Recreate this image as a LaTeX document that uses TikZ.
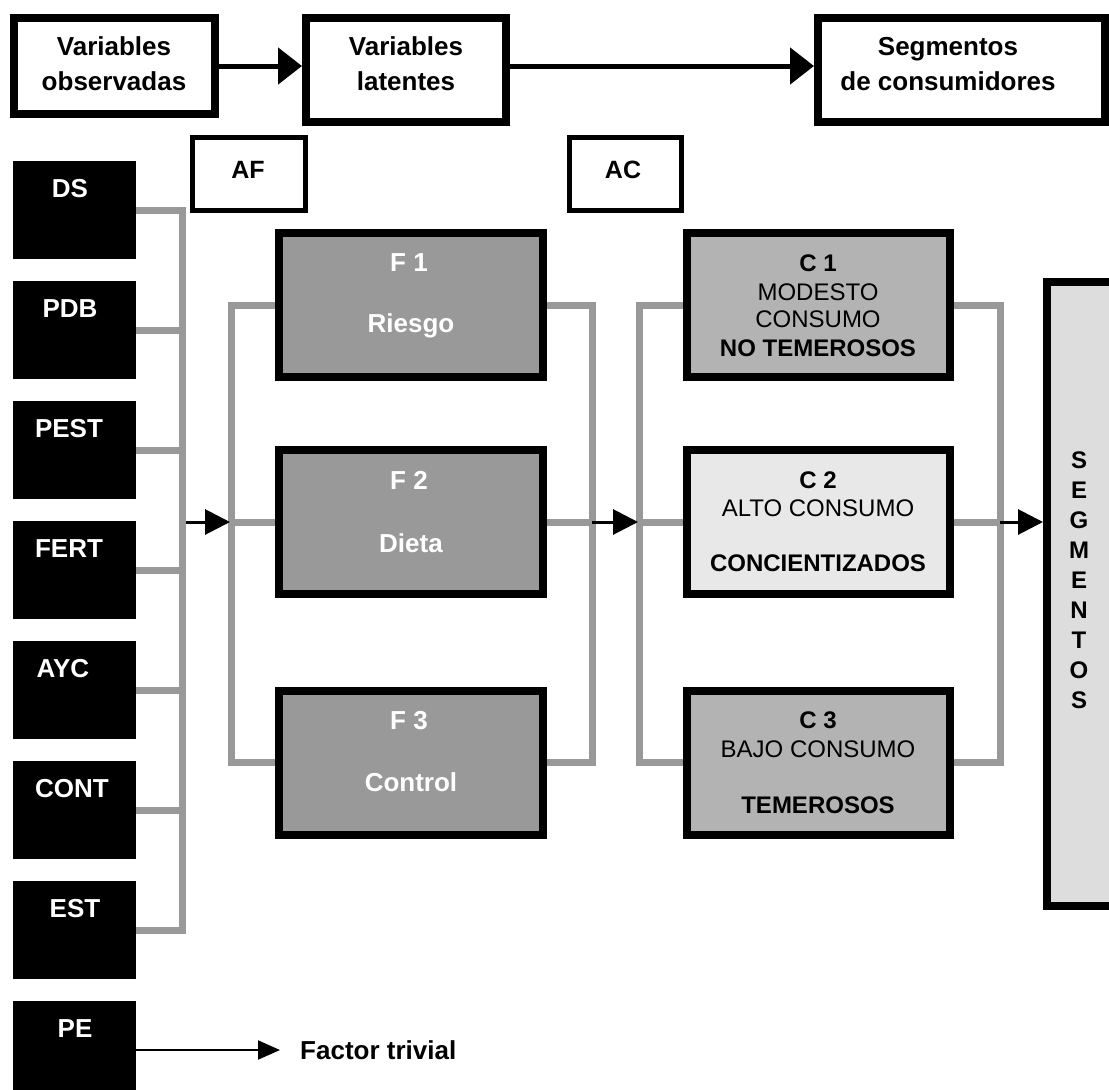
\documentclass[tikz,border=0pt]{standalone}
\usepackage{fontspec}
\setmainfont{Liberation Sans}
\usetikzlibrary{arrows.meta,calc}
\definecolor{linegray}{HTML}{999999}
\definecolor{fgray}{HTML}{999999}
\definecolor{cmid}{HTML}{B3B3B3}
\definecolor{clight}{HTML}{E8E8E8}
\definecolor{segfill}{HTML}{DDDDDD}
\begin{document}
\begin{tikzpicture}[x=1pt,y=-1pt,
  every node/.style={inner sep=0pt},
  bf/.style={font=\fontsize{26}{31}\selectfont\bfseries, align=center},
  toptext/.style={font=\fontsize{26}{35}\selectfont\bfseries, align=center},
  cbf/.style={font=\fontsize{24}{29}\selectfont\bfseries, align=center},
  crg/.style={font=\fontsize{24}{29}\selectfont, align=center},
  topbox/.style={draw=black, line width=8pt, fill=white},
  anbox/.style={draw=black, line width=5pt, fill=white, minimum height=73pt},
  antext/.style={font=\fontsize{25}{30}\selectfont\bfseries},
  varbox/.style={fill=black, minimum width=123pt, minimum height=98pt},
  vartext/.style={bf, text=white},
  fbox/.style={draw=black, line width=8pt, fill=fgray, minimum width=264pt, minimum height=144pt},
  ftext/.style={bf, text=white},
  cbox/.style={draw=black, line width=8pt, minimum width=263pt, minimum height=144pt},
  busline/.style={draw=linegray, line width=7pt},
  bigarrow/.style={draw=black, line width=5pt, -{Triangle[length=24pt,width=36pt]}},
  midarrow/.style={draw=black, line width=3pt, -{Triangle[length=25pt,width=25pt]}},
  thinarrow/.style={draw=black, line width=2pt, -{Triangle[length=22pt,width=19pt]}}
]
\clip (0,0) rectangle (1109,1090);
\fill[white] (0,0) rectangle (1109,1090);

% bus x positions
\coordinate (bx) at (182,0);
\coordinate (fl) at (231,0);
\coordinate (fr) at (592,0);
\coordinate (cl) at (639,0);
\coordinate (cr) at (1000,0);

% top row
\node[topbox, minimum width=201pt, minimum height=96pt] (top1) at (114.5,66) {};
\node[topbox, minimum width=200pt, minimum height=104pt] (top2) at (406,70) {};
\node[topbox, minimum width=287pt, minimum height=104pt] (top3) at (961.5,70) {};
\node[toptext] (top1t) at (114,63.5) {Variables\\observadas};
\node[toptext] (top2t) at (406,63.5) {Variables\\latentes};
\node[toptext] (top3t) at (948,64) {Segmentos\\de consumidores};
\draw[bigarrow] (top1.east) -- (top1.east -| top2.west);
\draw[bigarrow] (top2.east |- top1.east) -- (top3.west |- top1.east);

% AF / AC
\node[anbox, minimum width=113pt] (af) at (248.5,173.5) {};
\node[antext] (aft) at (248,170) {AF};
\node[anbox, minimum width=112pt] (ac) at (625,173.5) {};
\node[antext] (act) at (623,170) {AC};

% observed variables
\node[varbox] (ds)   at (74.5,210) {};
\node[varbox] (pdb)  at (74.5,330) {};
\node[varbox] (pest) at (74.5,450) {};
\node[varbox] (fert) at (74.5,570) {};
\node[varbox] (ayc)  at (74.5,690) {};
\node[varbox] (cont) at (74.5,810) {};
\node[varbox] (est)  at (74.5,930) {};
\node[varbox] (pe)   at (74.5,1050) {};
\node[vartext] (dst)   at (70,189) {DS};
\node[vartext] (pdbt)  at (70,309) {PDB};
\node[vartext] (pestt) at (69,429) {PEST};
\node[vartext] (fertt) at (69,549) {FERT};
\node[vartext] (ayct)  at (63,669) {AYC};
\node[vartext] (contt) at (72,789) {CONT};
\node[vartext] (estt)  at (75,909) {EST};
\node[vartext] (pet)   at (75,1029) {PE};

% factors
\node[fbox] (f1) at (411,305) {};
\node[fbox] (f2) at (411,522) {};
\node[fbox] (f3) at (411,762.5) {};
\node[ftext] (f1a) at (409,263) {F 1};
\node[ftext] (f1b) at (411,326) {Riesgo};
\node[ftext] (f2a) at (409,480) {F 2};
\node[ftext] (f2b) at (411,543) {Dieta};
\node[ftext] (f3a) at (409,720.5) {F 3};
\node[ftext] (f3b) at (411,782.5) {Control};

% clusters
\node[cbox, fill=cmid] (c1) at (818.5,305) {};
\node[cbox, fill=clight] (c2) at (818.5,522) {};
\node[cbox, fill=cmid] (c3) at (818.5,762.5) {};
\node[cbf] (c1a) at (818,263) {C 1};
\node[crg] (c1b) at (818,292) {MODESTO};
\node[crg] (c1c) at (818,319) {CONSUMO};
\node[cbf] (c1d) at (818,348) {NO TEMEROSOS};
\node[cbf] (c2a) at (818,480) {C 2};
\node[crg] (c2b) at (818,508) {ALTO CONSUMO};
\node[cbf] (c2c) at (818,563) {CONCIENTIZADOS};
\node[cbf] (c3a) at (818,720.5) {C 3};
\node[crg] (c3b) at (818,749.5) {BAJO CONSUMO};
\node[cbf] (c3c) at (818,805.5) {TEMEROSOS};

% segmentos
\node[draw=black, line width=8pt, fill=segfill, minimum width=78pt, minimum height=624pt] (seg) at (1086,594) {};
\node[font=\fontsize{24}{30}\selectfont\bfseries, align=center] (segt) at (1079,580) {S\\E\\G\\M\\E\\N\\T\\O\\S};

% buses
\draw[busline] (ds.east) -- (ds.east -| bx) -- (est.east -| bx) -- (est.east);
\foreach \n in {pdb,pest,fert,ayc,cont} \draw[busline] (\n.east) -- (\n.east -| bx);
\draw[busline] (f1.west) -- (f1.west -| fl) -- (f3.west -| fl) -- (f3.west);
\draw[busline] (f2.west) -- (f2.west -| fl);
\draw[busline] (f1.east) -- (f1.east -| fr) -- (f3.east -| fr) -- (f3.east);
\draw[busline] (f2.east) -- (f2.east -| fr);
\draw[busline] (c1.west) -- (c1.west -| cl) -- (c3.west -| cl) -- (c3.west);
\draw[busline] (c2.west) -- (c2.west -| cl);
\draw[busline] (c1.east) -- (c1.east -| cr) -- (c3.east -| cr) -- (c3.east);
\draw[busline] (c2.east) -- (c2.east -| cr);

% arrows between stages
\draw[midarrow] ([xshift=3.5pt]bx |- f2.west) -- ([xshift=-1pt]fl |- f2.west);
\draw[midarrow] (fr |- f2.east) -- ([xshift=-1pt]cl |- f2.east);
\draw[midarrow] (cr |- c2.east) -- (seg.west |- c2.east);

% trivial factor
\node[bf, anchor=west] (ft) at (300,1050) {Factor trivial};
\draw[thinarrow] (pe.east) -- ([xshift=-20pt]ft.west);
\end{tikzpicture}
\end{document}
